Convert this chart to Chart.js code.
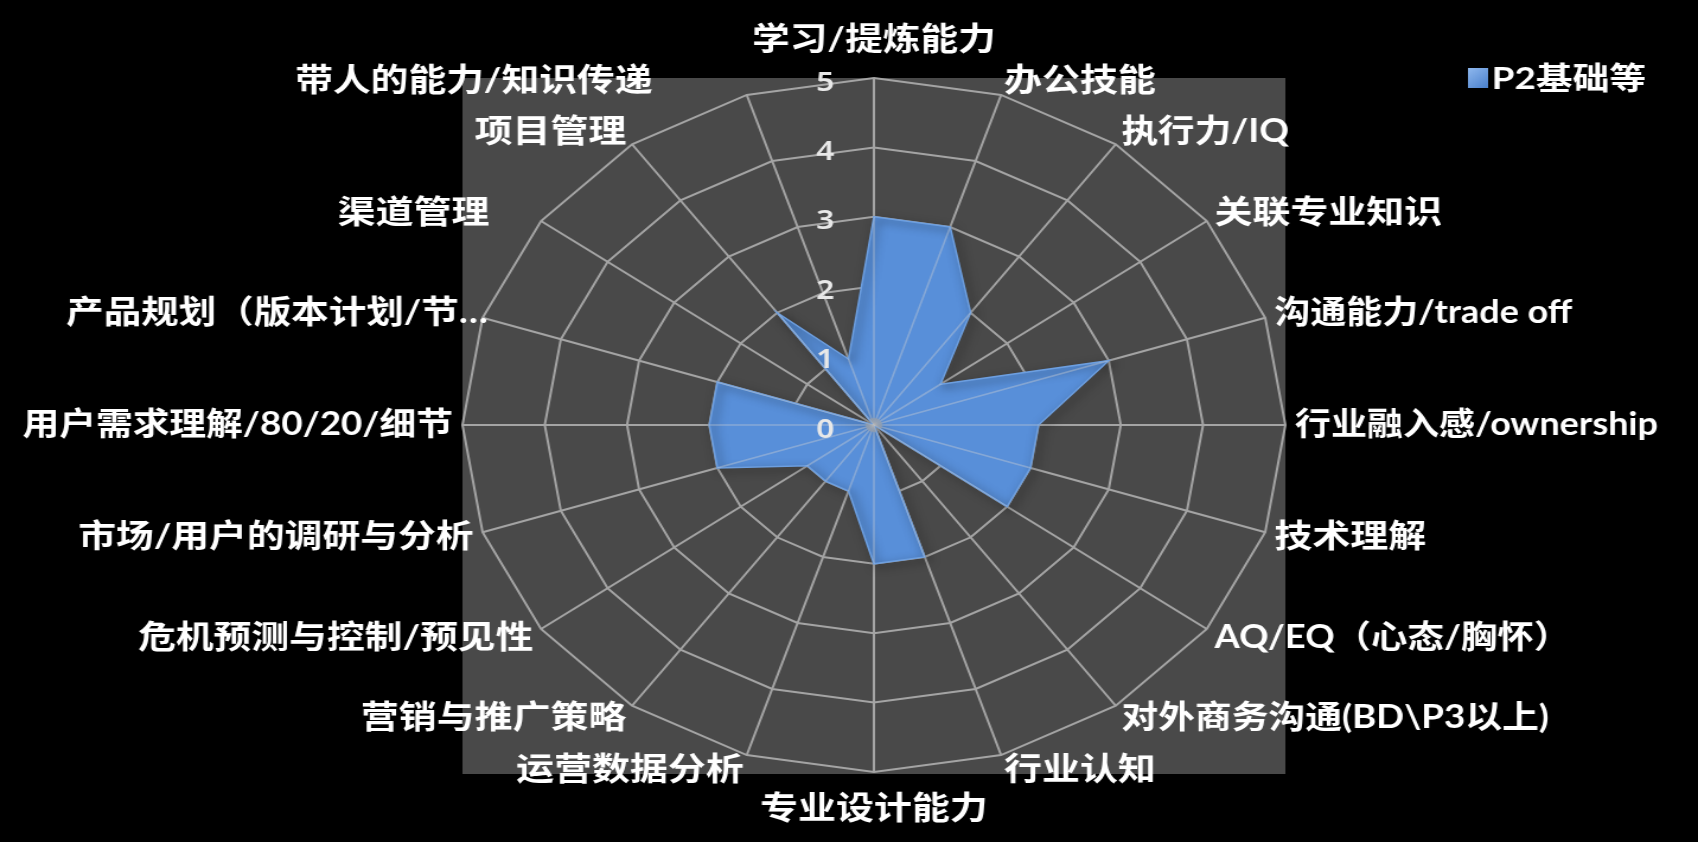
<!DOCTYPE html>
<html>
<head>
<meta charset="utf-8">
<script src="https://cdn.jsdelivr.net/npm/chart.js@4.4.1/dist/chart.umd.min.js"></script>
<style>
  html, body { margin: 0; padding: 0; background: #000; width: 1698px; height: 842px; overflow: hidden; }
  #wrap { position: absolute; left: 0; top: 0; width: 1432px; height: 842px;
          transform: scaleX(1.18575); transform-origin: 0 0; }
</style>
</head>
<body>
<div id="wrap"><canvas id="chart"></canvas></div>
<script>
// ---- data ----
const categories = [
  '学习/提炼能力',
  '办公技能',
  '执行力/IQ',
  '关联专业知识',
  '沟通能力/trade off',
  '行业融入感/ownership',
  '技术理解',
  'AQ/EQ（心态/胸怀）',
  '对外商务沟通(BD\\P3以上)',
  '行业认知',
  '专业设计能力',
  '运营数据分析',
  '营销与推广策略',
  '危机预测与控制/预见性',
  '市场/用户的调研与分析',
  '用户需求理解/80/20/细节',
  '产品规划（版本计划/节…',
  '渠道管理',
  '项目管理',
  '带人的能力/知识传递'
];
const seriesName = 'P2基础等';
const seriesValues = [3, 3, 2, 1, 3, 2, 2, 2, 0, 2, 2, 1, 1, 1, 2, 2, 2, 0, 2, 1];
const tickLabels = ['0', '1', '2', '3', '4', '5'];

// ---- styling ----
const LABEL_FONT = 'bold 32px Lato, "Noto Sans CJK SC", sans-serif';
const TICK_FONT = '600 27px "Noto Sans", "DejaVu Sans", sans-serif';
const LEGEND_FONT = 'bold 31px Lato, "Noto Sans CJK SC", sans-serif';
const LABEL_NUDGE_X = { 16: 12, 17: -37, 19: -77 };
const LATIN_CONDENSE = 0.9;
const CJK_RE = /[\u3000-\u9fff\uff00-\uffef]/;

function condensedWidth(ctx, text) {
  let cjk = '', other = '';
  for (const ch of text) { if (CJK_RE.test(ch)) cjk += ch; else other += ch; }
  return ctx.measureText(cjk).width + LATIN_CONDENSE * ctx.measureText(other).width;
}

const decor = {
  id: 'decor',
  beforeDraw(chart) {
    const s = chart.scales.r, ctx = chart.ctx, r = s.drawingArea;
    ctx.save();
    ctx.fillStyle = '#494949';
    ctx.fillRect(s.xCenter - r, s.yCenter - r, 2 * r, 2 * r + 2);
    ctx.restore();
  },
  beforeDatasetDraw(chart) {
    const ctx = chart.ctx;
    ctx.save();
    ctx.shadowColor = 'rgba(0,0,0,0.7)';
    ctx.shadowBlur = 9;
    ctx.shadowOffsetX = 3;
    ctx.shadowOffsetY = 3;
  },
  afterDatasetDraw(chart) {
    chart.ctx.restore();
  },
  afterDatasetsDraw(chart) {
    const s = chart.scales.r, ctx = chart.ctx, r = s.drawingArea;
    const n = chart.data.labels.length;
    // spokes visible through the filled area
    const pts = chart.getDatasetMeta(0).data;
    ctx.save();
    ctx.beginPath();
    pts.forEach((p, i) => { if (i === 0) ctx.moveTo(p.x, p.y); else ctx.lineTo(p.x, p.y); });
    ctx.closePath();
    ctx.clip();
    ctx.strokeStyle = 'rgba(210,210,210,0.38)';
    ctx.lineWidth = 1.6;
    for (let i = 0; i < n; i++) {
      const p = s.getPointPosition(i, r);
      ctx.beginPath();
      ctx.moveTo(s.xCenter, s.yCenter);
      ctx.lineTo(p.x, p.y);
      ctx.stroke();
    }
    ctx.fillStyle = 'rgba(160,160,160,0.55)';
    ctx.beginPath();
    ctx.arc(s.xCenter, s.yCenter, 7, 0, Math.PI * 2);
    ctx.fill();
    ctx.restore();

    // tick labels
    ctx.save();
    ctx.font = TICK_FONT;
    ctx.fillStyle = '#e8e8e8';
    ctx.textAlign = 'center';
    ctx.textBaseline = 'middle';
    s.ticks.forEach((t, i) => {
      const d = s.getDistanceFromCenterForValue(t.value);
      ctx.fillText(tickLabels[i] !== undefined ? tickLabels[i] : t.label, s.xCenter - 41, s.yCenter - d + 5);
    });
    ctx.restore();

    // category labels
    ctx.save();
    ctx.font = LABEL_FONT;
    ctx.fillStyle = '#ffffff';
    ctx.textBaseline = 'middle';
    chart.data.labels.forEach((lab, i) => {
      const ang = i * 360 / n;
      const rad = ang * Math.PI / 180;
      const p = s.getPointPosition(i, r + 8);
      let x = p.x, y, align;
      if (ang === 0) { align = 'center'; y = s.yCenter - r - 38; }
      else if (ang === 180) { align = 'center'; y = s.yCenter + r + 37; }
      else { align = ang < 180 ? 'left' : 'right'; y = p.y - Math.cos(rad) * 7; }
      x += (LABEL_NUDGE_X[i] || 0);
      ctx.textAlign = align;
      ctx.fillText(lab, x, y, condensedWidth(ctx, lab));
    });
    ctx.restore();

    // legend
    const ds = chart.data.datasets[0];
    const lx = chart.width - 194, ly = 68;
    ctx.save();
    const g = ctx.createLinearGradient(lx, ly, lx + 17, ly + 20);
    g.addColorStop(0, '#8fb8ee');
    g.addColorStop(1, '#4a80cc');
    ctx.fillStyle = g;
    ctx.fillRect(lx, ly, 17, 20);
    ctx.font = LEGEND_FONT;
    ctx.fillStyle = '#ffffff';
    ctx.textAlign = 'left';
    ctx.textBaseline = 'middle';
    ctx.fillText(ds.label, lx + 20, ly + 11);
    ctx.restore();
  }
};

new Chart(document.getElementById('chart'), {
  type: 'radar',
  data: {
    labels: categories,
    datasets: [{
      label: seriesName,
      data: seriesValues,
      fill: true,
      backgroundColor: '#588fd9',
      borderColor: '#6d9fe0',
      borderWidth: 1.5,
      pointRadius: 0,
      pointHoverRadius: 0,
      tension: 0
    }]
  },
  options: {
    responsive: true,
    maintainAspectRatio: false,
    devicePixelRatio: 1,
    animation: false,
    layout: { padding: { left: 390, right: 347, top: 78, bottom: 70 } },
    plugins: { legend: { display: false }, tooltip: { enabled: false } },
    scales: {
      r: {
        min: 0,
        max: 5,
        ticks: { stepSize: 1, display: false },
        pointLabels: { display: false },
        grid: { color: '#a4a4a4', lineWidth: 2 },
        angleLines: { color: '#a4a4a4', lineWidth: 2 }
      }
    }
  },
  plugins: [decor]
});
</script>
</body>
</html>
